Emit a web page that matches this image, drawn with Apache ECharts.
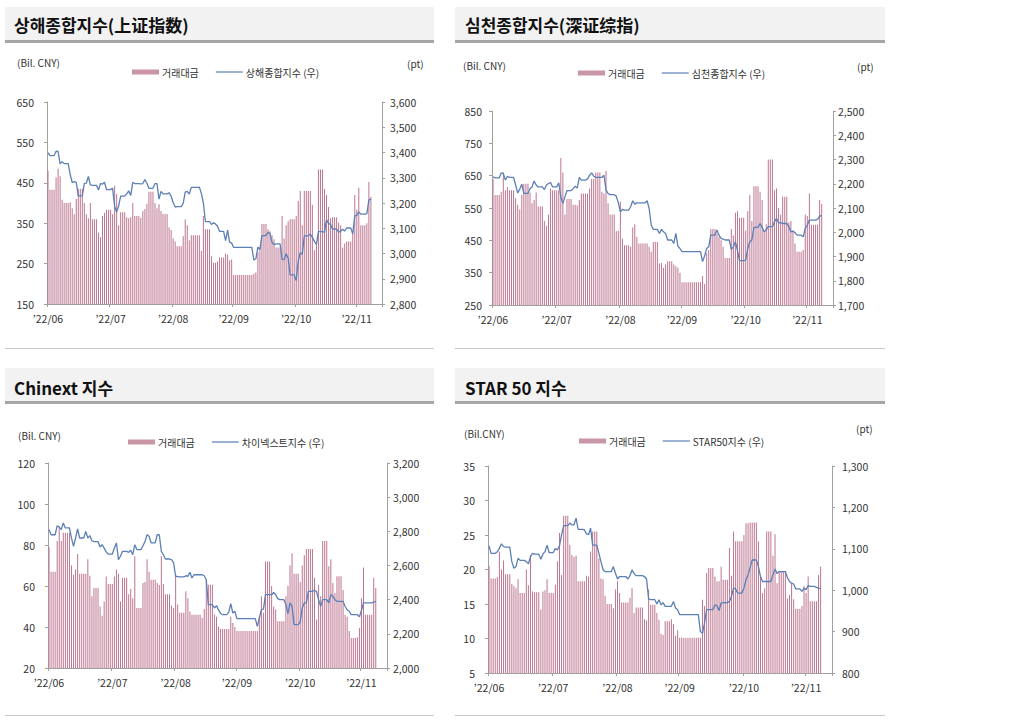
<!DOCTYPE html>
<html><head><meta charset="utf-8">
<script src="https://cdn.jsdelivr.net/npm/echarts/dist/echarts.min.js"></script>
<style>html,body{margin:0;padding:0;background:#fff}#c{width:1023px;height:723px}</style>
</head><body><div id="c"></div>
<script>
// ---- x axis: daily slots, month ticks ----
const monthStartIdx = [0, 31, 62, 92, 123, 153];
const tickLabels = ['\u201922/06', '\u201922/07', '\u201922/08', '\u201922/09', '\u201922/10', '\u201922/11'];
const slotCount = 166;

// ---- 상해종합지수 panel ----
const sseAmt = [
 480,433,433,433,463,485,466, 408,400,400,400,402,387,372, 410,435,435,435,400,372,362,
 400,360,360,360,327,315,368, 375,383,383,383,372,443,422, 345,377,377,377,365,362,365,
 400,368,368,368,363,380,385, 398,428,428,428,400,387,397, 380,373,373,373,340,333,313,
 305,293,293,293,318,360,345, 308,320,320,320,320,320,282, 368,335,335,335,268,252,252,
 255,265,265,265,275,272,258, 260,222,222,222,222,222,222, 222,222,222,222,225,228,278,
 290,348,348,348,335,330,320, 310,290,290,290,368,312,345, 355,360,360,360,368,405,430,
 345,430,430,430,430,395,283, 300,483,483,483,435,420,390, 362,365,365,365,352,345,290,
 300,305,305,305,323,420,383, 438,345,345,345,350,452,415
];
const sseIdx = [
 3399,3388,3388,3388,3405,3404,3355, 3364,3356,3356,3356,3313,3281,3285, 3282,3228,3228,3228,3278,3279,3305,
 3272,3270,3270,3270,3251,3277,3275, 3282,3253,3253,3253,3259,3186,3164, 3189,3227,3227,3227,3236,3248,3230,
 3282,3277,3277,3277,3276,3277,3293, 3278,3258,3258,3258,3277,3277,3215, 3246,3236,3236,3236,3240,3227,3202,
 3184,3186,3186,3186,3199,3243,3246, 3235,3262,3262,3262,3262,3263,3237, 3199,3126,3126,3126,3115,3122,3117,
 3108,3088,3088,3088,3051,3093,3045, 3041,3024,3024,3024,3024,3024,3024, 3024,3024,3024,3024,2974,2979,3025,
 3016,3071,3071,3071,3084,3080,3044, 3035,3038,3038,3038,2977,2976,2999, 2982,2915,2915,2915,2893,2969,3003,
 2997,3070,3070,3070,3077,3064,3048, 3036,3087,3087,3087,3083,3134,3119, 3115,3097,3097,3097,3085,3088,3096,
 3089,3101,3101,3101,3078,3149,3151, 3165,3156,3156,3156,3158,3212,3215
];

// ---- 심천종합지수 panel ----
const szAmt = [
 640,590,590,590,600,660,605, 615,605,605,605,580,560,545, 590,625,625,625,598,565,575,
 598,555,555,555,510,495,530, 610,605,605,605,605,705,660, 530,578,578,578,560,560,558,
 575,595,595,595,595,610,640, 640,660,660,660,600,595,665, 565,530,530,530,478,480,570,
 455,435,435,435,430,490,500, 460,440,440,440,440,440,430, 415,445,445,445,378,380,365,
 375,385,385,385,375,370,365, 350,320,320,320,320,320,320, 320,320,320,320,340,315,410,
 420,485,485,485,470,460,450, 430,395,395,395,485,465,535, 540,520,520,520,480,540,590,
 510,617,617,617,600,575,480, 500,700,700,700,605,610,550, 530,585,585,585,505,510,480,
 440,415,415,415,420,530,525, 595,498,498,498,498,575,562
];
const szIdx = [
 2228,2224,2224,2224,2245,2243,2215, 2231,2226,2226,2226,2195,2162,2178, 2198,2160,2160,2160,2180,2187,2211,
 2195,2187,2187,2187,2176,2195,2201, 2205,2187,2187,2187,2204,2146,2119, 2146,2172,2172,2172,2180,2190,2182,
 2226,2215,2215,2215,2220,2235,2245, 2231,2226,2226,2226,2226,2235,2175, 2160,2155,2155,2155,2149,2121,2084,
 2094,2091,2091,2091,2105,2130,2116, 2121,2121,2121,2121,2121,2130,2098, 2030,2012,2012,2012,1995,2012,2002,
 1995,1968,1968,1968,1954,1995,1943, 1933,1920,1920,1920,1920,1920,1920, 1920,1920,1920,1920,1879,1902,1933,
 1940,1988,1988,1988,2009,1988,1975, 1972,1968,1968,1968,1929,1940,1961, 1924,1883,1883,1883,1885,1933,1961,
 1968,2020,2020,2020,2036,2020,2002, 2010,2023,2023,2023,2043,2057,2039, 2040,2036,2036,2036,2023,2002,2005,
 1998,1988,1988,1988,1981,2016,2030, 2050,2050,2050,2050,2053,2067,2068
];

// ---- Chinext panel ----
const cyAmt = [
 79,67,67,67,82,89,82, 86,86,86,86,70,65.5,68, 75.6,66,66,66,66,73,65,
 55,59,59,59,50,45.5,52.5, 64.6,61,61,61,64.6,68,66, 52.5,64,64,64,56,58.5,54,
 74.5,49.3,49.3,49.3,61.5,62,73, 67,63,63,63,61.5,60.5,74.5, 61,56,56,56,50.4,49.3,66,
 51,47,47,47,57.4,54,47.6, 46,46,46,46,46,44.4,48.8, 63,60.6,60.6,60.6,46,45,40.3,
 39,39,39,39,39,45,42, 40,38,38,38,38,38,38, 38,38,38,38,38,45,55,
 47,72,72,72,60,50,48.5, 42.8,42.8,42.8,42.8,55,60,70, 76,66,66,66,62,70,75,
 78,78,78,78,64,43.6,60.6, 55,82,82,82,69.6,73,61.5, 56.6,64.7,64.7,64.7,58,46,45,
 38,34.6,34.6,34.6,35,39.5,54, 69,46,46,46,46,64,59
];
const cyIdx = [
 2810,2780,2780,2780,2833,2825,2810, 2849,2820,2820,2820,2760,2712,2761, 2814,2761,2761,2761,2800,2761,2775,
 2745,2740,2740,2740,2708,2722,2702, 2680,2667,2667,2667,2702,2732,2634, 2654,2683,2683,2683,2677,2689,2663,
 2722,2693,2693,2693,2716,2741,2780, 2771,2732,2732,2732,2780,2780,2683, 2663,2638,2638,2638,2634,2615,2537,
 2535,2533,2533,2533,2540,2537,2560, 2527,2546,2546,2546,2546,2546,2540, 2517,2371,2371,2371,2351,2365,2340,
 2320,2312,2312,2312,2326,2377,2322, 2332,2289,2289,2289,2289,2289,2289, 2289,2289,2289,2289,2244,2293,2341,
 2345,2429,2429,2429,2429,2443,2429, 2406,2400,2400,2400,2371,2318,2381, 2361,2254,2254,2254,2270,2351,2381,
 2381,2449,2449,2449,2455,2449,2400, 2361,2400,2400,2400,2381,2429,2420, 2400,2390,2390,2390,2390,2360,2341,
 2332,2312,2312,2312,2312,2299,2338, 2381,2381,2381,2381,2381,2385,2390
];

// ---- STAR 50 panel ----
const starAmt = [
 20.5,18.7,18.7,18.7,18.9,22.6,20, 21.3,19.3,19.3,19.3,17.9,17.6,17.3, 18.6,16.6,16.6,16.6,20,17.7,22.1,
 16.8,16.7,16.7,16.7,14.2,16.8,17, 18.6,16.6,16.6,16.6,17.8,21.2,25.3, 19.2,27.8,27.8,27.8,23.6,22.1,21.8,
 22,18.3,18.3,18.3,18.3,19.1,19, 22.6,25.5,25.5,25.5,21.6,18.7,18.6, 16.2,15,15,15,14.4,17.1,18.3,
 16.6,15.2,15.2,15.2,15.2,15.9,17.3, 13.7,14.5,14.5,14.5,14.5,12.8,12.6, 17.1,14.9,14.9,14.9,13.7,12.7,10.7,
 10.5,12.5,12.5,12.5,12.8,12.1,10.4, 11.2,10.1,10.1,10.1,10.1,10.1,10.1, 10.1,10.1,10.1,10.1,10.1,15.6,14.7,
 19.5,20.2,20.2,20.2,19,18.3,18.3, 20.4,18.5,18.5,18.5,23.1,19.1,25.5, 24.1,24.1,24.1,24.1,25,26.7,26.7,
 26.8,26.8,26.8,26.8,24.1,19,16.6, 17.3,25.5,25.5,25.5,22,25.1,18, 19.8,19.8,19.8,19.8,15.8,16.3,18,
 15.7,14.3,14.3,14.3,14.7,17.6,16.6, 19,15.4,15.4,15.4,15.4,19.2,20.4
];
const starIdx = [
 1107,1089,1089,1089,1093,1101,1112, 1105,1104,1104,1104,1069,1053,1057, 1077,1072,1072,1072,1069,1064,1081,
 1089,1087,1087,1087,1075,1087,1093, 1109,1091,1091,1091,1101,1097,1107, 1134,1156,1156,1156,1162,1158,1158,
 1174,1147,1147,1147,1146,1136,1134, 1150,1109,1109,1109,1089,1069,1050, 1045,1045,1045,1045,1057,1041,1027,
 1033,1033,1033,1033,1027,1035,1049, 1040,1035,1035,1035,1035,1033,1027, 979,977,977,977,967,977,965,
 970,961,961,961,961,973,957, 953,941,941,941,941,941,941, 941,941,941,941,900,896,921,
 953,953,953,953,965,962,951, 969,970,970,970,973,985,1005, 1003,993,993,993,1005,1025,1037,
 1055,1073,1073,1073,1057,1033,1021, 1021,1021,1021,1021,1037,1051,1040, 1045,1045,1045,1045,1030,1021,1017,
 1015,1003,1003,1003,997,1005,1001, 1011,1009,1009,1009,1007,1005,1004
];

const panelTitles = ['상해종합지수(上证指数)', '심천종합지수(深证综指)', 'Chinext 지수', 'STAR 50 지수'];
const lineNames = ['상해종합지수 (우)', '심천종합지수 (우)', '차이넥스트지수 (우)', 'STAR50지수 (우)'];
const barName = '거래대금';
const unitLeft = ['(Bil. CNY)', '(Bil. CNY)', '(Bil. CNY)', '(Bil.CNY)'];

// ---- styling / layout ----
const FONT = '"Noto Sans CJK KR", "Noto Sans", sans-serif';
const BAR_COLOR = '#bd7590';
const SWATCH_COLOR = '#c896a5';
const LINE_COLOR = '#5b7fb6';
const AXIS_COLOR = '#a0a0a0';
const TEXT_COLOR = '#333333';
const LINE_ICON = 'path://M0,0 L54,0 L54,2.4 L0,2.4 Z';

const layouts = [
  {grid:{left:47, top:102, width:335, height:202}, l:[150,650,100], r:[2800,3600,100], lm:13, rm:8, leg:[127,62], unitL:[17,62], unitR:[407,63], bars:sseAmt, line:sseIdx},
  {grid:{left:492, top:111, width:341, height:194}, l:[250,850,100], r:[1700,2500,100], lm:10, rm:5, leg:[573,63], unitL:[463,65], unitR:[857,66], bars:szAmt, line:szIdx},
  {grid:{left:48, top:463, width:339, height:205}, l:[20,120,20], r:[2000,3200,200], lm:13, rm:6, leg:[123,432], unitL:[18,435], unitR:null, bars:cyAmt, line:cyIdx},
  {grid:{left:488, top:466, width:344, height:207}, l:[5,35,5], r:[800,1300,100], lm:13, rm:10, leg:[574,431], unitL:[464,433], unitR:[856,428], bars:starAmt, line:starIdx}
];
const headers = [
  {x:5, y:7, w:429, title:[14,24], sep:348},
  {x:455, y:7, w:430, title:[465,24], sep:348},
  {x:5, y:368, w:429, title:[14,387], sep:715},
  {x:455, y:368, w:430, title:[465,387], sep:715}
];

const slots = Array.from({length: slotCount}, (_, i) => String(i));
const isMonthStart = (idx) => monthStartIdx.indexOf(idx) >= 0;

const option = {
  animation: false,
  backgroundColor: '#ffffff',
  grid: [], xAxis: [], yAxis: [], series: [], legend: [], graphic: []
};

layouts.forEach((p, k) => {
  option.grid.push(Object.assign({containLabel: false}, p.grid));
  option.xAxis.push({
    type: 'category', gridIndex: k, data: slots, boundaryGap: true,
    axisLine: {lineStyle: {color: AXIS_COLOR, width: 1}},
    axisTick: {show: true, length: 3, lineStyle: {color: AXIS_COLOR}, interval: (i) => isMonthStart(i)},
    axisLabel: {
      interval: (i) => isMonthStart(i), margin: 9,
      fontSize: 10.5, fontFamily: FONT, color: TEXT_COLOR,
      formatter: (v) => tickLabels[monthStartIdx.indexOf(Number(v))] || ''
    },
    splitLine: {show: false}
  });
  option.yAxis.push({
    type: 'value', gridIndex: k, position: 'left', min: p.l[0], max: p.l[1], interval: p.l[2],
    axisLine: {show: true, lineStyle: {color: AXIS_COLOR}},
    axisTick: {show: true, length: 3, lineStyle: {color: AXIS_COLOR}},
    axisLabel: {margin: p.lm, fontSize: 10.5, fontFamily: FONT, color: TEXT_COLOR},
    splitLine: {show: false}
  });
  option.yAxis.push({
    type: 'value', gridIndex: k, position: 'right', min: p.r[0], max: p.r[1], interval: p.r[2],
    axisLine: {show: true, lineStyle: {color: AXIS_COLOR}},
    axisTick: {show: true, length: 3, lineStyle: {color: AXIS_COLOR}},
    axisLabel: {margin: p.rm, fontSize: 10.5, fontFamily: FONT, color: TEXT_COLOR,
      formatter: (v) => v.toLocaleString('en-US')},
    splitLine: {show: false}
  });
  option.series.push({
    type: 'bar', name: barName, xAxisIndex: k, yAxisIndex: 2 * k,
    data: p.bars, barWidth: 1, itemStyle: {color: BAR_COLOR}, z: 2
  });
  option.series.push({
    type: 'line', name: lineNames[k], xAxisIndex: k, yAxisIndex: 2 * k + 1,
    data: p.line, symbol: 'none', lineStyle: {color: LINE_COLOR, width: 1.3}, itemStyle: {color: LINE_COLOR}, z: 3
  });
  option.legend.push({
    left: p.leg[0], top: p.leg[1], itemWidth: 27, itemHeight: 5, itemGap: 17,
    selectedMode: false, symbolKeepAspect: true,
    textStyle: {fontSize: 10, fontFamily: FONT, color: TEXT_COLOR, padding: [0, 0, 0, -2]},
    data: [
      {name: barName, icon: 'rect', itemStyle: {color: SWATCH_COLOR}},
      {name: lineNames[k], icon: LINE_ICON, itemStyle: {color: LINE_COLOR, borderWidth: 0}}
    ]
  });
  option.graphic.push({type: 'text', x: p.unitL[0], y: p.unitL[1],
    style: {text: unitLeft[k], font: '10px ' + FONT, fill: TEXT_COLOR, verticalAlign: 'middle'}});
  if (p.unitR) {
    option.graphic.push({type: 'text', x: p.unitR[0], y: p.unitR[1],
      style: {text: '(pt)', font: '10px ' + FONT, fill: TEXT_COLOR, verticalAlign: 'middle'}});
  }
});

headers.forEach((h, k) => {
  option.graphic.push({type: 'rect', shape: {x: h.x, y: h.y, width: h.w, height: 33}, style: {fill: '#f2f2f2'}, silent: true});
  option.graphic.push({type: 'rect', shape: {x: h.x, y: h.y + 33, width: h.w, height: 3}, style: {fill: '#a6a6a6'}, silent: true});
  option.graphic.push({type: 'rect', shape: {x: h.x, y: h.sep, width: h.w, height: 1}, style: {fill: '#c8c8c8'}, silent: true});
  option.graphic.push({type: 'text', x: h.title[0], y: h.title[1],
    style: {text: panelTitles[k], font: 'bold 17px ' + FONT, fill: '#111111', verticalAlign: 'middle'}});
});

const chart = echarts.init(document.getElementById('c'), null, {renderer: 'svg', width: 1023, height: 723});
chart.setOption(option);
</script>
</body></html>
